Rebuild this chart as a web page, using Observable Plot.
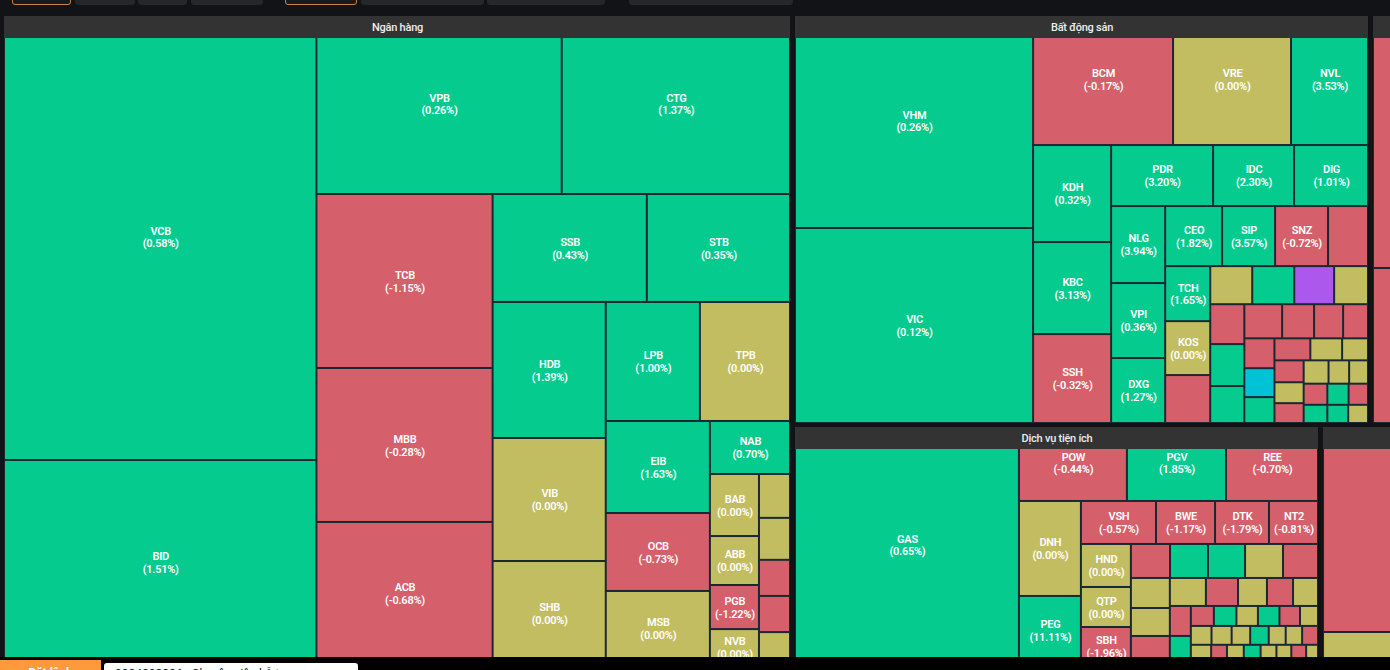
<!DOCTYPE html>
<html lang="vi">
<head>
<meta charset="utf-8">
<title>Bản đồ thị trường</title>
<script src="https://cdn.jsdelivr.net/npm/d3@7"></script>
<script src="https://cdn.jsdelivr.net/npm/@observablehq/plot@0.6"></script>
<style>
html,body{margin:0;padding:0;width:1390px;height:670px;overflow:hidden;background:#111316;font-family:Roboto,sans-serif}
#chart{position:absolute;left:0;top:0}
#chart text{letter-spacing:-.25px}
.tab{position:absolute;top:-6px;height:9px;background:#26272b;border-radius:3px;border:1px solid #26272b}
.tab.on{border-color:#c9853f;background:#18191c}
#foot{position:absolute;left:0;top:657px;width:1390px;height:13px;background:#000;overflow:hidden}
#order{position:absolute;left:0;top:3px;width:101px;height:24px;background:#ff9a3c;color:#fff;font-size:12px;font-weight:700;text-align:center;line-height:27px}
#search{position:absolute;left:104px;top:6px;width:254px;height:24px;background:#fff;border-radius:3px;color:#111;font-size:12px;line-height:23px;padding-left:11px;box-sizing:border-box}
</style>
</head>
<body>
<div id="chart"></div>
<div class="tab on" style="left:12px;width:57px"></div>
<div class="tab" style="left:75px;width:58px"></div>
<div class="tab" style="left:138px;width:47px"></div>
<div class="tab" style="left:191px;width:70px"></div>
<div class="tab on" style="left:285px;width:70px"></div>
<div class="tab" style="left:361px;width:121px"></div>
<div class="tab" style="left:487px;width:116px"></div>
<div class="tab" style="left:629px;width:162px"></div>
<div id="foot"><div id="order">Đặt lệnh</div><div id="search">0984288886 - Chuyên viên hỗ trợ</div></div>
<script>
// Each "steps" list peels one group off the remaining block, alternating direction.
const chain = steps => steps.reduceRight((rest, head) => [head, rest]);

// Sector weights (the sectors on the far right are cropped by the window)
const sectorSteps = ["Ngân hàng", [["Bất động sản", "_a"], ["Dịch vụ tiện ích", "_b"]]];
const sectorCaps = [5165.2, 2375.6, 131.5, 1277.8, 198.4];

// Ngân hàng
const bankSteps = [["VCB","BID"],["VPB","CTG"],["TCB","MBB","ACB"],["SSB","STB"],["HDB","VIB","SHB"],["LPB","TPB"],["EIB","OCB","MSB"],"NAB",["BAB","ABB","PGB","NVB"],["_","_","_","_","_"]];
const bankCaps = [1385.3,639.6, 436.1,405.8, 306.2,271,251.7, 166.3,154.4, 153.7,139,117.5, 111.9,107.1, 95.7,81.1,77, 42.4, 30.4,24,21.6,17.6, 13.6,13,11.2,11.2,10.2];
const bankChanges = [0.58,1.51, 0.26,1.37, -1.15,-0.28,-0.68, 0.43,0.35, 1.39,0,0, 1.00,0, 1.63,-0.73,0, 0.70, 0,0,-1.22,0, 0,0,-0.5,-0.5,0];

// Bất động sản
const realSteps = [["VHM","VIC"],["BCM","VRE","NVL"],["KDH","KBC","SSH"],["PDR","IDC","DIG"],["NLG","VPI","DXG"],["CEO","SIP","SNZ","_"],["TCH","KOS","_"],["_","_","_p","_"],["_","_","_"],["_","_","_","_"],["_","_c","_"],["_","_","_"],["_","_","_"],[["_","_","_"],["_","_","_"],["_","_","_"]]];
const realCaps = [504.6,464.1, 180.6,152.2,99.3, 75.7,71.8,69.4, 62.2,49.4,45.1, 41.6,40.5,35.1, 34.2,31.8,31.8,24, 24.8,24.3,21.6, 16,16,15.2,12.9, 13.6,14.3,12.6, 12.9,10.9,9.9,8.5, 9,8.7,7.8, 7.9,7,5.7, 6.4,6.1,5.8, 5.8,4.8,4.4, 5,4.5,4.1, 4.3,3.8,3.6];
const realChanges = [0.26,0.12, -0.17,0,3.53, 0.32,3.13,-0.32, 3.20,2.30,1.01, 3.94,0.36,1.27, 1.82,3.57,-0.72,-0.5, 1.65,0,-0.5, 0,0.5,6.9,0, -0.5,0.5,0.5, -0.5,-0.5,-0.5,-0.5, -0.5,-6.9,0.5, -0.5,0,0, -0.5,0,-0.5, 0,0,0, -0.5,0.5,-0.5, 0.5,0.5,0];

// Dịch vụ tiện ích
const utilSteps = ["GAS",["POW","PGV","REE"],["DNH","PEG"],["VSH","BWE","DTK","NT2"],["HND","QTP","SBH"],["_","_","_","_","_"],["_","_","_"],["_","_","_","_","_"],["_","_"],[["_","_","_","_","_","_"],["_","_","_","_","_","_","_"],["_","_","_","_","_","_","_","_"]]];
const utilCaps = [533.1, 79.9,73.3,68.1, 58.9,42.8, 32.3,25.4,23.2,21.1, 21.5,20,19, 13.3,12.9,12.6,12.9,11.9, 11.7,10.9,11.3, 10.1,9,8.1,7.3,7, 6.3,6.1, 4.6,4.5,4.3,4.3,4.1,3.6, 3.9,3.8,3.5,3.5,3.2,3.1,3, 4.1,3.2,3.4,3.4,3.2,3,3,2.4];
const utilChanges = [0.65, -0.44,1.85,-0.70, 0,11.11, -0.57,-1.17,-1.79,-0.81, 0,0,-1.96, -0.5,0.5,0.5,0,-0.5, 0,0,-0.5, 0,-0.5,0,-0.5,0, -0.5,0.5, -0.5,0.5,0,0.5,-0.5,0, 0,0,0,0.5,0,0,-0.5, 0,-0.5,0,0.5,0,0,-0.5,0];

// Two sectors cut off at the right edge
const sideATree = ["_","_"], sideACaps = [252,155], sideAChanges = [-0.5,-0.5];
const sideBTree = ["_","_"], sideBCaps = [205,33], sideBChanges = [-0.5,0];

const ceilingCells = ["_p"];
const floorCells = ["_c"];
const stateNames = ["up","down","flat","ceiling","floor"];
const stateColors = ["#05cc8e","#d55f6a","#c2bd60","#ad58ec","#02c2d6"];

const sectorInputs = new Map([
  ["Ngân hàng",[chain(bankSteps),bankCaps,bankChanges]],
  ["Bất động sản",[chain(realSteps),realCaps,realChanges]],
  ["_a",[sideATree,sideACaps,sideAChanges]],
  ["Dịch vụ tiện ích",[chain(utilSteps),utilCaps,utilChanges]],
  ["_b",[sideBTree,sideBCaps,sideBChanges]]
]);

const tile = (node,x0,y0,x1,y1) => (node.depth % 2 ? d3.treemapSlice : d3.treemapDice)(node,x0,y0,x1,y1);
const vertical = (node,x0,y0,x1,y1) => d3.treemapSlice(node,x0,y0,x1,y1);
function nest(tree, caps, changes) {
  let i = 0;
  const walk = t => Array.isArray(t) ? {children:t.map(walk)} : {ticker:t, cap:caps[i], change:changes[i++]};
  return d3.hierarchy(walk(tree)).sum(d => d.cap || 0);
}
const stateOf = d => ceilingCells.includes(d.ticker) ? "ceiling" : floorCells.includes(d.ticker) ? "floor"
  : d.change > 0 ? "up" : d.change < 0 ? "down" : "flat";

// Chart frame in page pixels
const originX = 4, originY = 16, frameW = 1396, frameH = 649, headerH = 22;
const topRoot = d3.treemap().size([frameW,frameH]).tile(tile).paddingInner(n => n.depth === 1 ? 4 : 5)(nest(sectorSteps, sectorCaps, sectorCaps));

const sectors = [], cells = [];
for (const s of topRoot.leaves()) {
  const x1 = originX+s.x0, x2 = originX+s.x1, y1 = originY+s.y0, y2 = originY+s.y1;
  sectors.push({name:s.data.ticker.startsWith("_") ? "" : s.data.ticker, x1, x2, y1, y2, yh:y1+headerH});
  const [tree,caps,changes] = sectorInputs.get(s.data.ticker);
  const isSide = s.data.ticker.startsWith("_");
  const root = d3.treemap().size([x2-x1,y2-y1]).tile(isSide ? vertical : tile)(nest(tree,caps,changes));
  for (const c of root.leaves()) cells.push({
    ticker:c.data.ticker, change:c.data.change, state:stateOf(c.data), atTop:c.y0 === 0,
    x1:x1+c.x0, x2:x1+c.x1, y1:y1+c.y0, y2:y1+c.y1
  });
}
const labelled = cells.filter(c => !c.ticker.startsWith("_"));

const chart = Plot.plot({
  width:1390, height:670, margin:0,
  style:{background:"transparent"},
  x:{domain:[0,1390], range:[0,1390], axis:null},
  y:{domain:[0,670], range:[0,670], axis:null},
  color:{type:"ordinal", domain:stateNames, range:stateColors},
  marks:[
    Plot.rect(sectors,{x1:"x1",x2:"x2",y1:"y1",y2:"y2",fill:"#1a2833"}),
    Plot.rect(cells,{x1:"x1",x2:"x2",y1:"y1",y2:"y2",fill:"state",inset:1}),
    Plot.text(labelled,{
      x:d => (d.x1+d.x2)/2, y:d => (d.y1+d.y2)/2 - (d.atTop ? 1.5 : 0.3),
      text:d => `${d.ticker}\n(${d.change.toFixed(2)}%)`,
      fill:"#fff", fontSize:11, fontWeight:600, fontFamily:"Roboto", lineHeight:1.15
    }),
    Plot.rect(sectors,{x1:"x1",x2:"x2",y1:"y1",y2:"yh",fill:"#333333"}),
    Plot.text(sectors,{
      x:d => (d.x1+d.x2)/2, y:d => d.y1+headerH/2-0.5, text:"name",
      fill:"#eeeeee", fontSize:11, fontWeight:500, fontFamily:"Roboto"
    })
  ]
});
document.getElementById("chart").append(chart);
</script>
</body>
</html>
